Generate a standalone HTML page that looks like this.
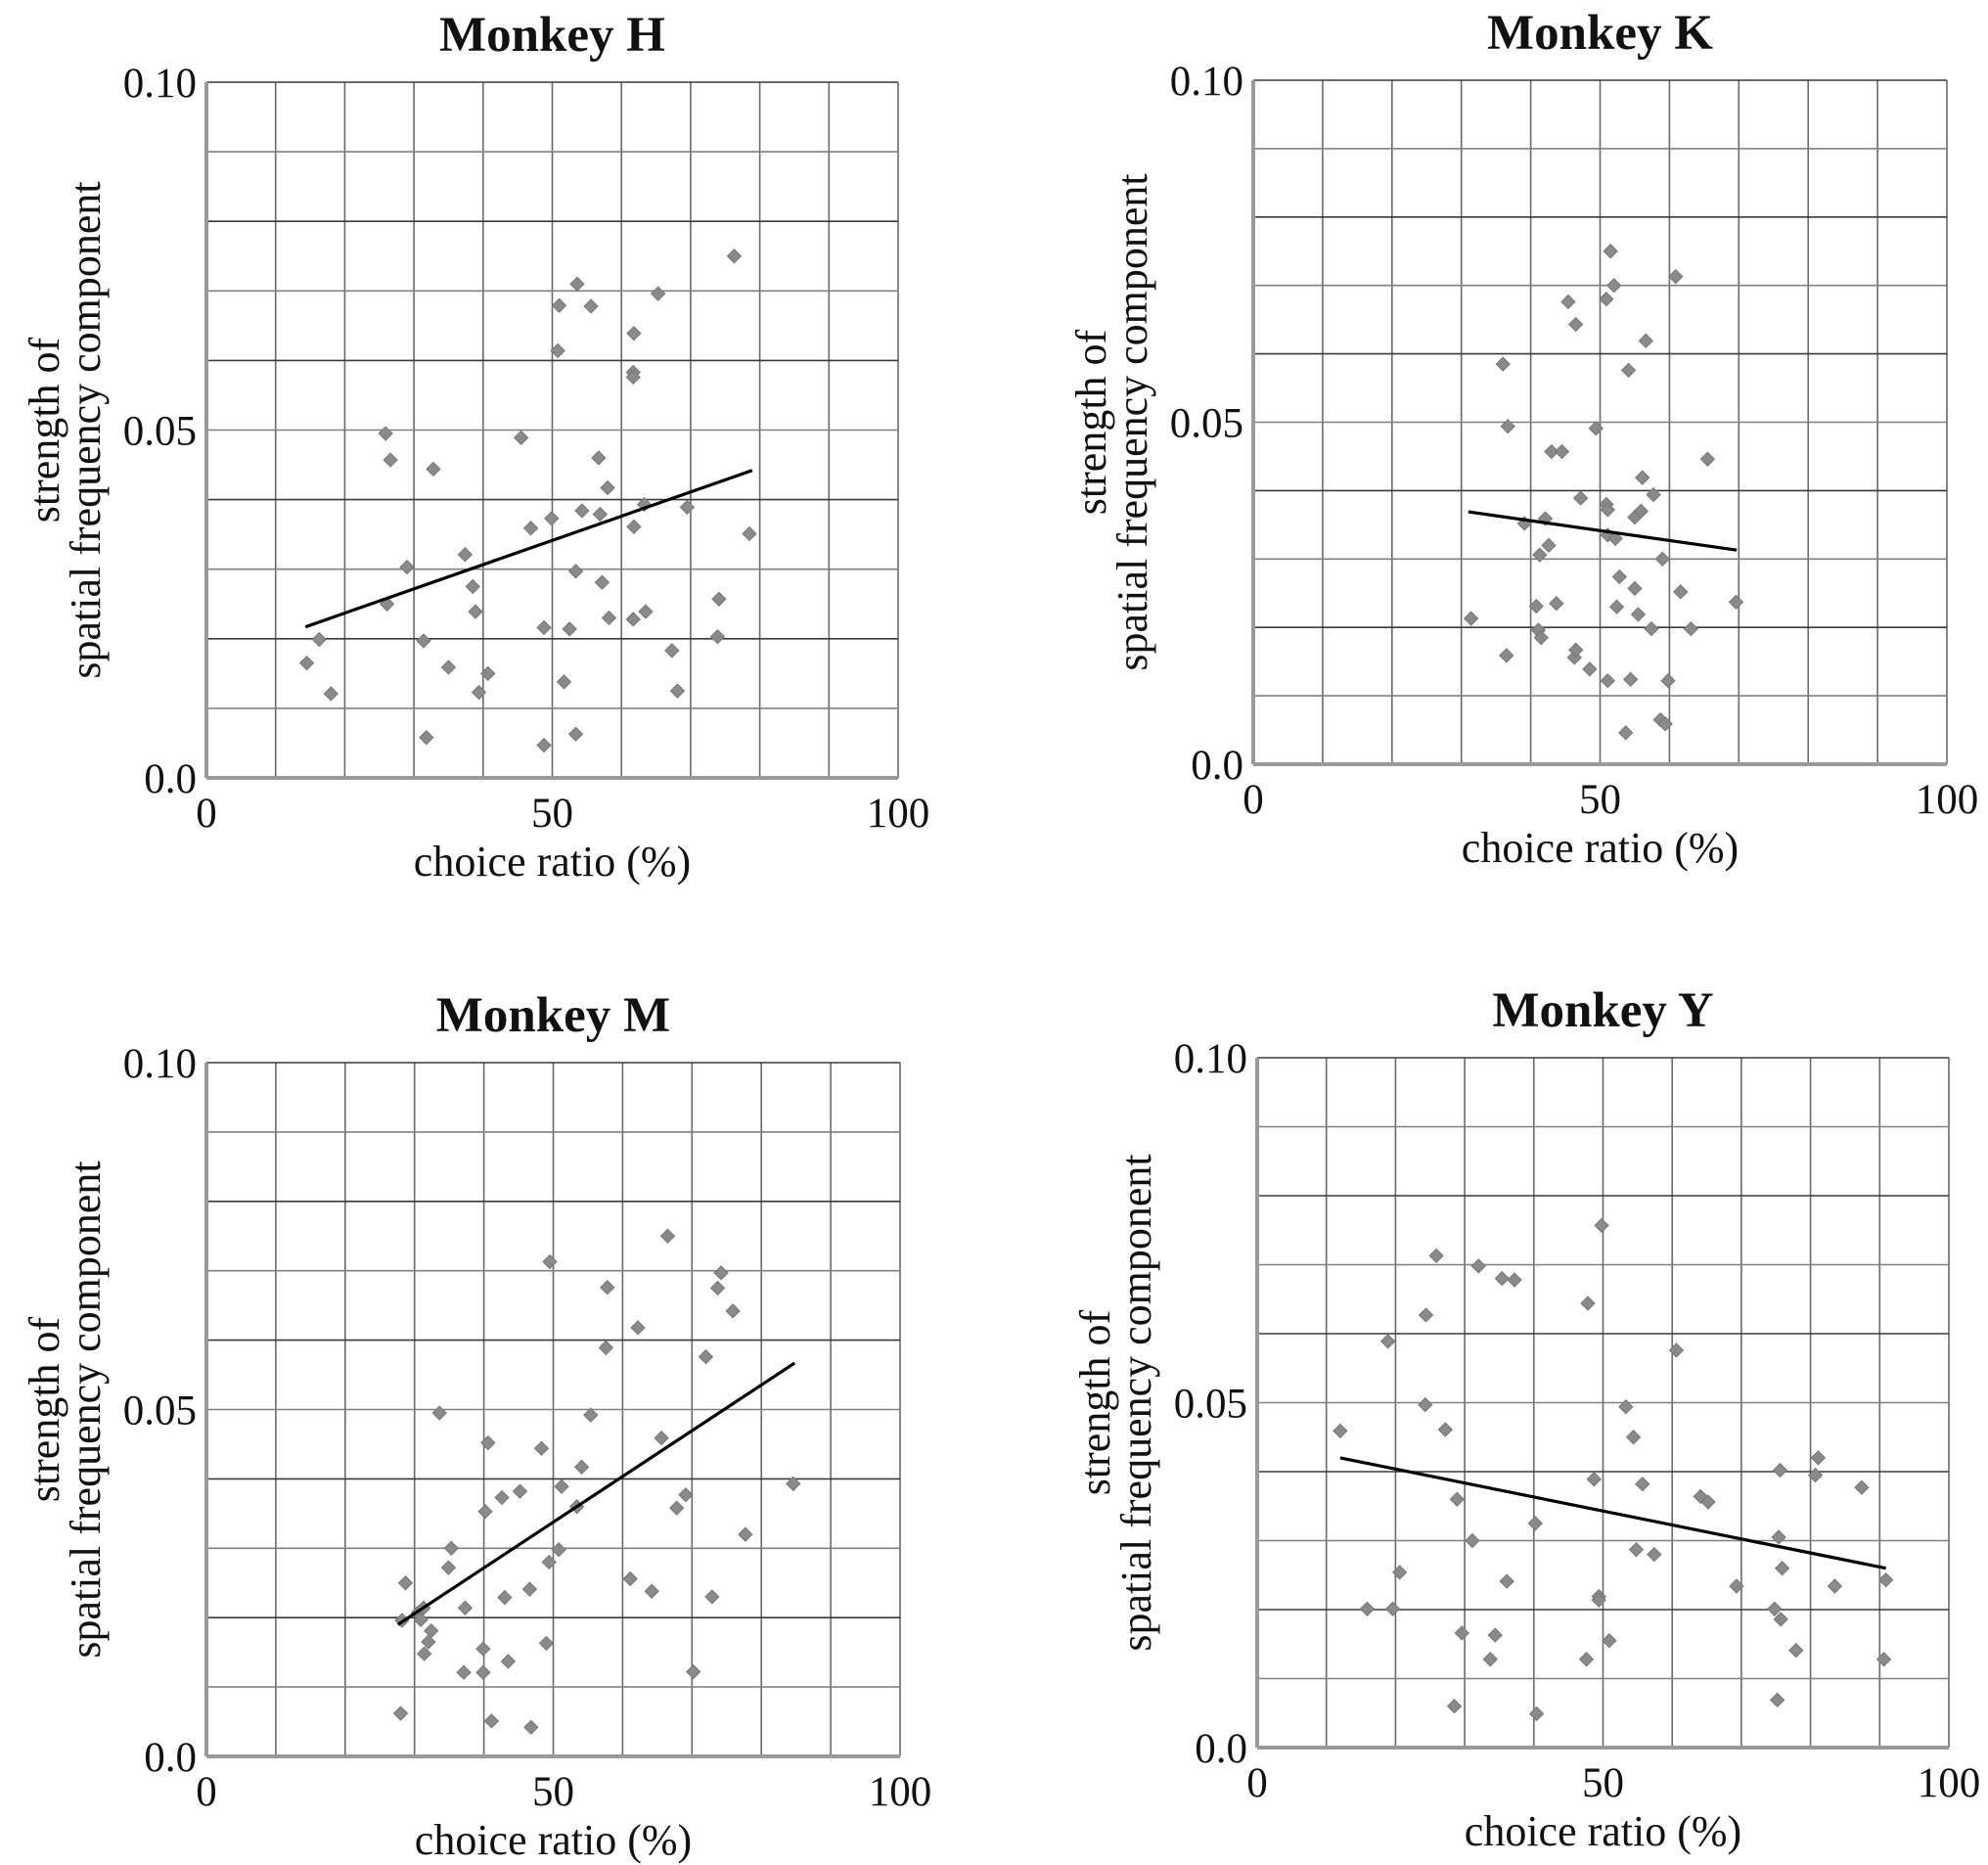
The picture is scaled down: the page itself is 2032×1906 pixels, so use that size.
<!DOCTYPE html>
<html><head><meta charset="utf-8">
<style>
html,body{margin:0;padding:0;background:#fff;}
svg{display:block;}
text{font-family:"Liberation Serif",serif;fill:#111;}
</style></head>
<body>
<svg id="fig" width="2032" height="1906" viewBox="0 0 2032 1906" xmlns="http://www.w3.org/2000/svg"></svg>
<script>
const xTicks = [0, 50, 100];
const yTickLabels = ["0.0", "0.05", "0.10"];
const yTickValues = [0, 0.05, 0.1];

const hX = [14.5,16.3,18.0,25.9,26.6,26.1,29.0,31.4,31.8,32.8,35.0,37.4,38.5,38.9,39.4,40.7,45.5,46.9,48.8,48.8,49.9,51.0,50.8,51.7,52.5,53.4,53.6,53.4,54.3,55.6,56.7,56.9,57.2,58.0,58.2,61.7,61.7,61.8,61.8,61.7,63.3,63.5,65.3,67.3,69.5,68.1,73.9,74.1,76.3,78.5];
const hY = [0.0165,0.0199,0.0121,0.0495,0.0457,0.0250,0.0303,0.0197,0.0058,0.0444,0.0159,0.0321,0.0275,0.0239,0.0123,0.0150,0.0489,0.0359,0.0216,0.0047,0.0373,0.0679,0.0614,0.0138,0.0214,0.0297,0.0710,0.0063,0.0384,0.0678,0.0460,0.0379,0.0281,0.0417,0.0230,0.0583,0.0576,0.0639,0.0361,0.0228,0.0393,0.0239,0.0696,0.0183,0.0389,0.0125,0.0203,0.0257,0.0750,0.0351];
const hTrend = [[14.3,0.0217],[78.9,0.0442]];

const kX = [31.4,36.5,36.0,36.7,39.1,40.8,41.1,41.3,41.5,42.1,42.6,43.0,43.7,44.5,45.4,46.3,46.5,46.5,47.2,48.5,49.4,51.1,50.9,51.1,50.9,51.1,51.5,52.0,52.2,52.4,52.8,53.7,54.1,54.4,55.0,55.0,55.5,55.9,56.1,56.6,57.4,57.7,58.7,59.0,59.4,59.8,60.9,61.6,63.1,65.5,69.6];
const kY = [0.0213,0.0159,0.0585,0.0494,0.0352,0.0231,0.0196,0.0306,0.0185,0.0359,0.0320,0.0457,0.0235,0.0457,0.0676,0.0156,0.0167,0.0643,0.0389,0.0139,0.0491,0.0122,0.0380,0.0372,0.0680,0.0335,0.0750,0.0700,0.0330,0.0230,0.0274,0.0046,0.0576,0.0124,0.0361,0.0257,0.0219,0.0370,0.0419,0.0619,0.0198,0.0394,0.0065,0.0300,0.0059,0.0122,0.0713,0.0252,0.0198,0.0446,0.0237];
const kTrend = [[31.0,0.0369],[69.7,0.0313]];

const mX = [28.0,28.7,28.2,30.5,30.9,31.3,31.4,32.0,32.4,33.6,34.9,35.3,37.1,37.3,39.9,39.9,40.2,40.6,41.1,42.6,43.0,43.5,45.2,46.6,46.8,48.3,49.0,49.4,49.5,50.8,51.2,53.4,54.1,55.4,57.6,57.8,61.1,62.2,64.2,65.6,66.5,67.8,69.1,70.2,72.0,72.9,73.7,74.2,75.9,77.7,84.6];
const mY = [0.0062,0.0250,0.0196,0.0207,0.0197,0.0214,0.0148,0.0165,0.0181,0.0495,0.0272,0.0300,0.0121,0.0214,0.0155,0.0121,0.0353,0.0452,0.0051,0.0373,0.0229,0.0137,0.0382,0.0241,0.0042,0.0444,0.0163,0.0280,0.0713,0.0298,0.0389,0.0360,0.0417,0.0492,0.0589,0.0676,0.0256,0.0618,0.0238,0.0459,0.0750,0.0358,0.0377,0.0122,0.0576,0.0230,0.0675,0.0697,0.0642,0.0320,0.0393];
const mTrend = [[27.6,0.0190],[84.8,0.0567]];

const yX = [12.0,15.9,18.9,19.6,20.6,24.3,24.4,25.9,27.2,28.5,28.9,29.6,31.1,32.0,33.7,34.4,36.1,35.4,37.2,40.2,40.4,47.6,47.8,48.7,49.4,49.4,49.8,50.9,53.3,54.4,54.8,55.7,57.4,60.6,69.3,64.1,65.2,74.8,75.4,75.6,75.2,75.9,75.7,77.9,83.5,80.7,81.1,87.4,90.6,90.9];
const yY = [0.0459,0.0201,0.0589,0.0201,0.0254,0.0497,0.0627,0.0713,0.0461,0.0060,0.0360,0.0166,0.0300,0.0698,0.0128,0.0163,0.0241,0.0680,0.0678,0.0325,0.0049,0.0128,0.0644,0.0389,0.0219,0.0214,0.0757,0.0155,0.0494,0.0450,0.0287,0.0382,0.0280,0.0576,0.0234,0.0364,0.0356,0.0201,0.0305,0.0402,0.0069,0.0260,0.0186,0.0141,0.0234,0.0395,0.0420,0.0377,0.0128,0.0243];
const yTrend = [[12.0,0.0420],[90.9,0.0260]];

const NS = "http://www.w3.org/2000/svg";
const svg = document.getElementById("fig");
function mk(tag, attrs, parent){
  const e = document.createElementNS(NS, tag);
  for (const k in attrs) e.setAttribute(k, attrs[k]);
  (parent||svg).appendChild(e);
  return e;
}

function panel(key, title, box, xs, ys, trend, lab){
  const g = mk("g", {});
  
  
  const sx = v => box.x0 + (v/100)*(box.x1-box.x0);
  const sy = v => box.y0 - (v/0.1)*(box.y0-box.y1);
  for (let i=1;i<=10;i++){
    const gx = sx(i*10);
    const l = mk("line",{x1:gx,y1:box.y1,x2:gx,y2:box.y0,stroke:"#6a6a6a","stroke-width":1.6},g);
    
    
  }
  for (let i=1;i<=10;i++){
    const gy = sy(i*0.01);
    const l = mk("line",{x1:box.x0,y1:gy,x2:box.x1,y2:gy,stroke:(i%2? "#808080":"#3a3a3a"),"stroke-width":1.6},g);
    
    
  }
  const ax = mk("line",{x1:box.x0,y1:box.y0,x2:box.x1,y2:box.y0,stroke:"#9a9a9a","stroke-width":4},g);
  
  
  const ay = mk("line",{x1:box.x0,y1:box.y0,x2:box.x0,y2:box.y1,stroke:"#9a9a9a","stroke-width":4},g);
  
  
  xTicks.forEach(v=>{
    const t = mk("text",{x:sx(v),y:box.y0+50,"font-size":43,"text-anchor":"middle"},g);
    t.textContent = v;
    
    
  });
  yTickValues.forEach((v,i)=>{
    const t = mk("text",{x:box.x0-10,y:sy(v)+15,"font-size":43,"text-anchor":"end"},g);
    t.textContent = yTickLabels[i];
    
    
  });
  const tt = mk("text",{x:(box.x0+box.x1)/2,y:box.y1-32,"font-size":51,"font-weight":"bold","text-anchor":"middle"},g);
  tt.textContent = title;
  
  
  const xl = mk("text",{x:(box.x0+box.x1)/2,y:box.y0+100,"font-size":44,"text-anchor":"middle"},g);
  xl.textContent = "choice ratio (%)";
  
  
  const cy = (box.y0+box.y1)/2;
  const yl = mk("text",{transform:`translate(${box.x0+lab[0]},${cy}) rotate(-90)`,"font-size":44,"text-anchor":"middle"},g);
  yl.textContent = "strength of";
  
  
  const yl2 = mk("text",{transform:`translate(${box.x0+lab[1]},${cy}) rotate(-90)`,"font-size":44,"text-anchor":"middle"},g);
  yl2.textContent = "spatial frequency component";
  
  
  xs.forEach((xv,i)=>{
    const px = sx(xv), py = sy(ys[i]), r=7;
    const p = mk("polygon",{points:`${px},${py-r} ${px+r},${py} ${px},${py+r} ${px-r},${py}`,fill:"#8a8a8a",stroke:"#777","stroke-width":1},g);
    
    
  });
  const tl = mk("line",{x1:sx(trend[0][0]),y1:sy(trend[0][1]),x2:sx(trend[1][0]),y2:sy(trend[1][1]),stroke:"#000","stroke-width":3.2},g);
  
  
}

const labOff = [-151,-109];
panel("h","Monkey H",{x0:211,x1:918,y0:795,y1:84},hX,hY,hTrend,labOff);
panel("k","Monkey K",{x0:1281,x1:1990,y0:781,y1:82},kX,kY,kTrend,labOff);
panel("m","Monkey M",{x0:211,x1:920,y0:1795,y1:1086},mX,mY,mTrend,labOff);
panel("y","Monkey Y",{x0:1285,x1:1992,y0:1786,y1:1081},yX,yY,yTrend,labOff);
</script>
</body></html>
